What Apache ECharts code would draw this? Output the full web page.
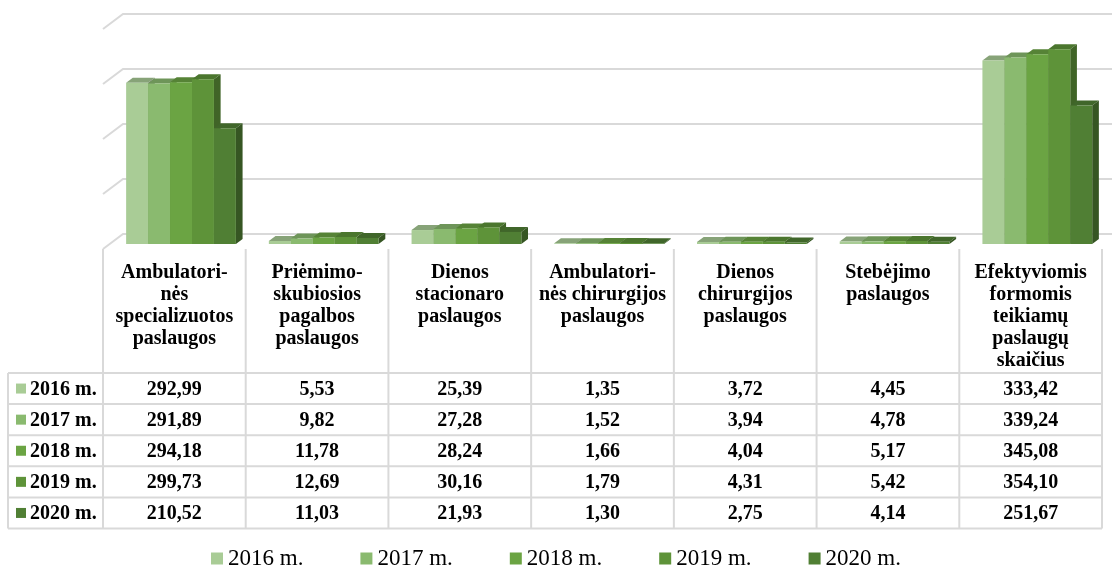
<!DOCTYPE html>
<html>
<head>
<meta charset="utf-8">
<script src="https://cdn.jsdelivr.net/npm/echarts@6/dist/echarts.min.js"></script>
<style>
  html, body { margin: 0; padding: 0; background: #fff; }
  #chart { width: 1112px; height: 572px; }
</style>
</head>
<body>
<div id="chart"></div>
<script>
// categories (header of the data table)
const categories = [
    'Ambulatori-\nnės\nspecializuotos\npaslaugos',
    'Priėmimo-\nskubiosios\npagalbos\npaslaugos',
    'Dienos\nstacionaro\npaslaugos',
    'Ambulatori-\nnės chirurgijos\npaslaugos',
    'Dienos\nchirurgijos\npaslaugos',
    'Stebėjimo\npaslaugos',
    'Efektyviomis\nformomis\nteikiamų\npaslaugų\nskaičius'
];
const years = ['2016 m.', '2017 m.', '2018 m.', '2019 m.', '2020 m.'];
const values2016 = [292.99, 5.53, 25.39, 1.35, 3.72, 4.45, 333.42];
const values2017 = [291.89, 9.82, 27.28, 1.52, 3.94, 4.78, 339.24];
const values2018 = [294.18, 11.78, 28.24, 1.66, 4.04, 5.17, 345.08];
const values2019 = [299.73, 12.69, 30.16, 1.79, 4.31, 5.42, 354.10];
const values2020 = [210.52, 11.03, 21.93, 1.30, 2.75, 4.14, 251.67];
const yTicks = [0, 100, 200, 300, 400];

const allValues = [values2016, values2017, values2018, values2019, values2020];
const yearColors = ['#a9cc96', '#8aba6f', '#6ba443', '#5e9339', '#507f34'];

// layout of the pseudo 3D box
const GRID_LEFT = 103, GRID_RIGHT = 10, GRID_TOP = 29, GRID_H = 220;
const DEPTH_X = 20, DEPTH_Y = -15;      // floor depth
const ROW_H = 31.1, HEADER_BOTTOM = 373;
const BOLD = 'bold 20px "Liberation Serif", serif';

function shade(hex, k) {
    const n = parseInt(hex.slice(1), 16);
    const r = Math.round(((n >> 16) & 255) * k);
    const g = Math.round(((n >> 8) & 255) * k);
    const b = Math.round((n & 255) * k);
    return `rgb(${r},${g},${b})`;
}

const chart = echarts.init(document.getElementById('chart'));

// back wall gridlines plus the side diagonals
const wallSeries = {
    type: 'custom',
    name: 'wall',
    silent: true,
    z: 1,
    data: yTicks.map(v => [0, v]),
    renderItem: (params, api) => {
        const p = api.coord([0, api.value(1)]);
        const cs = params.coordSys;
        const y = p[1];
        return {
            type: 'polyline',
            shape: {
                points: [
                    [cs.x, y],
                    [cs.x + DEPTH_X, y + DEPTH_Y],
                    [cs.x + cs.width + DEPTH_X, y + DEPTH_Y]
                ]
            },
            style: { stroke: '#d9d9d9', lineWidth: 2, fill: null }
        };
    }
};

const barSeries = years.map((name, k) => ({
    type: 'custom',
    name: name,
    z: 2,
    itemStyle: { color: yearColors[k] },
    data: allValues[k].map((v, i) => [i, v]),
    encode: { x: 0, y: 1 },
    renderItem: (params, api) => {
        const i = api.value(0);
        const top = api.coord([i, api.value(1)]);
        const base = api.coord([i, 0]);
        const band = api.size([1, 0])[0];
        const bw = band / 6.5;
        // bars sit in the middle third of the floor depth
        const fx = DEPTH_X / 3, fy = DEPTH_Y / 3;
        const dx = DEPTH_X / 3, dy = DEPTH_Y / 3;
        const x0 = top[0] - 2.5 * bw + k * bw + fx;
        const yT = top[1] + fy;
        const yB = base[1] + fy;
        const c = yearColors[k];
        return {
            type: 'group',
            children: [
                {
                    type: 'polygon',
                    shape: { points: [[x0, yT], [x0 + bw, yT], [x0 + bw + dx, yT + dy], [x0 + dx, yT + dy]] },
                    style: { fill: shade(c, 0.8) }
                },
                {
                    type: 'polygon',
                    shape: { points: [[x0 + bw, yT], [x0 + bw + dx, yT + dy], [x0 + bw + dx, yB + dy], [x0 + bw, yB]] },
                    style: { fill: shade(c, 0.68) }
                },
                {
                    type: 'rect',
                    shape: { x: x0, y: yT, width: bw, height: yB - yT },
                    style: { fill: c }
                }
            ]
        };
    }
}));

// data table below the chart
function buildTable() {
    const els = [];
    const bandW = (1112 - GRID_LEFT - GRID_RIGHT) / categories.length;
    const floorY = GRID_TOP + GRID_H;
    const tableRight = GRID_LEFT + bandW * categories.length;
    const tableBottom = HEADER_BOTTOM + ROW_H * years.length;
    const line = (x1, y1, x2, y2) => els.push({
        type: 'line', silent: true,
        shape: { x1, y1, x2, y2 },
        style: { stroke: '#d9d9d9', lineWidth: 2 }
    });
    for (let c = 0; c <= categories.length; c++) {
        const x = GRID_LEFT + c * bandW;
        line(x, floorY, x, tableBottom);
    }
    line(8, HEADER_BOTTOM, 8, tableBottom);
    for (let r = 0; r <= years.length; r++) {
        const y = HEADER_BOTTOM + r * ROW_H;
        line(8, y, tableRight, y);
    }
    categories.forEach((cat, c) => {
        els.push({
            type: 'text', silent: true,
            style: {
                text: cat, x: GRID_LEFT + (c + 0.5) * bandW, y: 262,
                align: 'center', textAlign: 'center', verticalAlign: 'top', textVerticalAlign: 'top',
                font: BOLD, lineHeight: 22, fill: '#000'
            }
        });
    });
    years.forEach((yr, r) => {
        const cy = HEADER_BOTTOM + (r + 0.5) * ROW_H;
        els.push({
            type: 'rect', silent: true,
            shape: { x: 16, y: cy - 5, width: 10, height: 10 },
            style: { fill: yearColors[r] }
        });
        els.push({
            type: 'text', silent: true,
            style: {
                text: yr, x: 30, y: cy + 1,
                align: 'left', textAlign: 'left', verticalAlign: 'middle', textVerticalAlign: 'middle',
                font: BOLD, fill: '#000'
            }
        });
        allValues[r].forEach((v, c) => {
            els.push({
                type: 'text', silent: true,
                style: {
                    text: v.toFixed(2).replace('.', ','), x: GRID_LEFT + (c + 0.5) * bandW, y: cy + 1,
                    align: 'center', textAlign: 'center', verticalAlign: 'middle', textVerticalAlign: 'middle',
                    font: BOLD, fill: '#000'
                }
            });
        });
    });
    return els;
}

const option = {
    animation: false,
    backgroundColor: '#fff',
    grid: {
        left: GRID_LEFT,
        right: GRID_RIGHT,
        top: GRID_TOP,
        height: GRID_H
    },
    xAxis: {
        type: 'category',
        data: categories,
        show: false
    },
    yAxis: {
        type: 'value',
        min: 0,
        max: 400,
        interval: 100,
        show: false,
        splitLine: { show: false }
    },
    legend: {
        data: years,
        left: 'center',
        top: 542,
        icon: 'rect',
        itemWidth: 12,
        itemHeight: 12,
        itemGap: 57,
        textStyle: {
            fontFamily: 'Liberation Serif',
            fontSize: 23,
            color: '#000'
        }
    },
    graphic: buildTable(),
    series: [wallSeries, ...barSeries]
};

chart.setOption(option);
</script>
</body>
</html>
